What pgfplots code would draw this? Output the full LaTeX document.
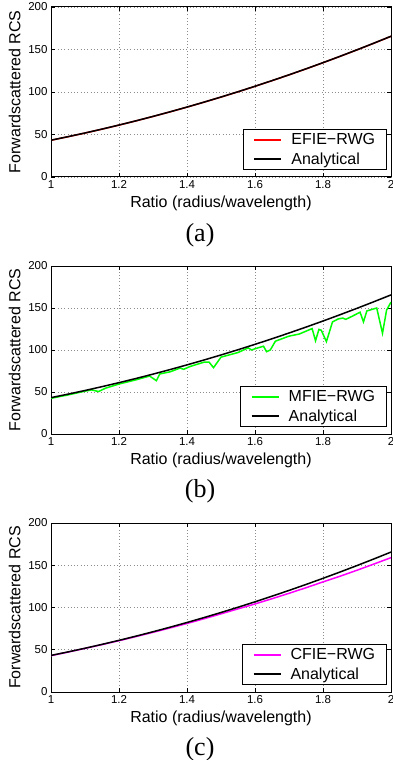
\documentclass[border=0pt]{standalone}
\usepackage{pgfplots}
\pgfplotsset{compat=1.18}
\usepackage{fontspec}
\setmainfont{Liberation Sans}
\newfontfamily\capfont{Liberation Serif}
\definecolor{mgreen}{RGB}{0,255,0}
\definecolor{mmag}{RGB}{255,0,255}

\pgfplotstableread{
x y
1.00 43.3
1.05 47.45
1.10 51.80
1.15 56.37
1.20 61.14
1.25 66.11
1.30 71.30
1.35 76.69
1.40 82.28
1.45 88.09
1.50 94.10
1.55 100.32
1.60 106.74
1.65 113.38
1.70 120.22
1.75 127.26
1.80 134.52
1.85 141.98
1.90 149.64
1.95 157.52
2.00 165.6
}\analytical

\pgfplotstableread{
x y
1.00 43.2
1.05 47.35
1.10 51.70
1.15 56.27
1.20 61.04
1.25 66.01
1.30 71.20
1.35 76.59
1.40 82.18
1.45 87.99
1.50 94.00
1.55 100.22
1.60 106.64
1.65 113.28
1.70 120.12
1.75 127.16
1.80 134.42
1.85 141.88
1.90 149.54
1.95 157.42
2.00 165.5
}\efie

\pgfplotstableread{
x y
1.00 42.5
1.05 46.5
1.10 51.0
1.12 52.5
1.14 50.5
1.16 54.5
1.20 59.5
1.25 64.5
1.29 69.0
1.31 63.5
1.32 71.5
1.35 74.0
1.38 78.5
1.39 77.0
1.41 80.5
1.45 85.5
1.465 85.5
1.478 79.0
1.50 91.5
1.55 97.0
1.58 102.5
1.59 100.0
1.60 101.5
1.625 104.5
1.634 98.0
1.645 100.0
1.66 110.5
1.70 116.5
1.73 119.0
1.768 125.5
1.778 111.0
1.788 124.5
1.795 123.5
1.81 110.0
1.828 133.5
1.845 137.0
1.858 138.0
1.867 136.5
1.885 140.0
1.909 145.0
1.919 133.5
1.929 146.5
1.958 150.0
1.975 120.0
1.987 147.5
2.00 157.0
}\mfie

\pgfplotstableread{
x y
1.00 43.0
1.05 47.2
1.10 51.6
1.15 56.1
1.20 60.7
1.25 65.6
1.30 70.6
1.35 75.8
1.40 81.1
1.45 86.7
1.50 92.5
1.55 98.4
1.60 104.2
1.65 110.4
1.70 116.8
1.75 123.4
1.80 130.3
1.85 137.0
1.90 144.1
1.95 151.5
2.00 159.0
}\cfie

\pgfplotsset{
 rcs/.style={
  scale only axis, width=340pt,
  xmin=1, xmax=2, ymin=0, ymax=200,
  xtick={1,1.2,1.4,1.6,1.8,2}, ytick={0,50,100,150,200},
  xticklabels={1,1.2,1.4,1.6,1.8,2},
  tick align=inside, major tick length=4pt,
  tick style={line width=0.6pt, black},
  grid=major, grid style={dash pattern=on 0.8pt off 2.5pt, black!45, line width=0.6pt},
  axis line style={line width=1pt},
  ticklabel style={font=\fontsize{11.5}{13}\selectfont},
  /pgf/number format/assume math mode=true,
  xlabel={Ratio (radius/wavelength)}, ylabel={Forwardscattered RCS},
  label style={font=\fontsize{16}{18}\selectfont},
  ylabel style={yshift=1pt},
  legend cell align=left,
  legend style={at={(1,0)}, anchor=south east, xshift=-4.5pt, yshift=7pt,
    font=\fontsize{16}{18}\selectfont, line width=0.8pt,
    nodes={inner sep=1pt},
    inner xsep=10pt, inner ysep=2.7pt, row sep=4.7pt, column sep=8pt},
  legend image code/.code={\draw[#1, line width=2pt] (0pt,0pt) -- (27pt,0pt);},
 }
}

\begin{document}
\begin{tikzpicture}
\path[use as bounding box] (0pt,0pt) rectangle (393pt,-760pt);

\begin{axis}[rcs, height=170pt, at={(51pt,-7pt)}, anchor=north west]
\addplot[red, line width=1.5pt] table[x=x,y=y] {\efie};
\addlegendentry{EFIE−RWG}
\addplot[black, line width=1.5pt] table[x=x,y=y] {\analytical};
\addlegendentry{Analytical}
\end{axis}
\node[font=\capfont\fontsize{26}{28}\selectfont] at (200pt,-235pt) {(a)};

\begin{axis}[rcs, height=168pt, at={(51pt,-266pt)}, anchor=north west]
\addplot[mgreen, line width=1.5pt] table[x=x,y=y] {\mfie};
\addlegendentry{MFIE−RWG}
\addplot[black, line width=1.5pt] table[x=x,y=y] {\analytical};
\addlegendentry{Analytical}
\end{axis}
\node[font=\capfont\fontsize{26}{28}\selectfont] at (200pt,-491pt) {(b)};

\begin{axis}[rcs, height=169pt, at={(51pt,-523pt)}, anchor=north west]
\addplot[mmag, line width=1.5pt] table[x=x,y=y] {\cfie};
\addlegendentry{CFIE−RWG}
\addplot[black, line width=1.5pt] table[x=x,y=y] {\analytical};
\addlegendentry{Analytical}
\end{axis}
\node[font=\capfont\fontsize{26}{28}\selectfont] at (200pt,-749pt) {(c)};
\end{tikzpicture}
\end{document}
